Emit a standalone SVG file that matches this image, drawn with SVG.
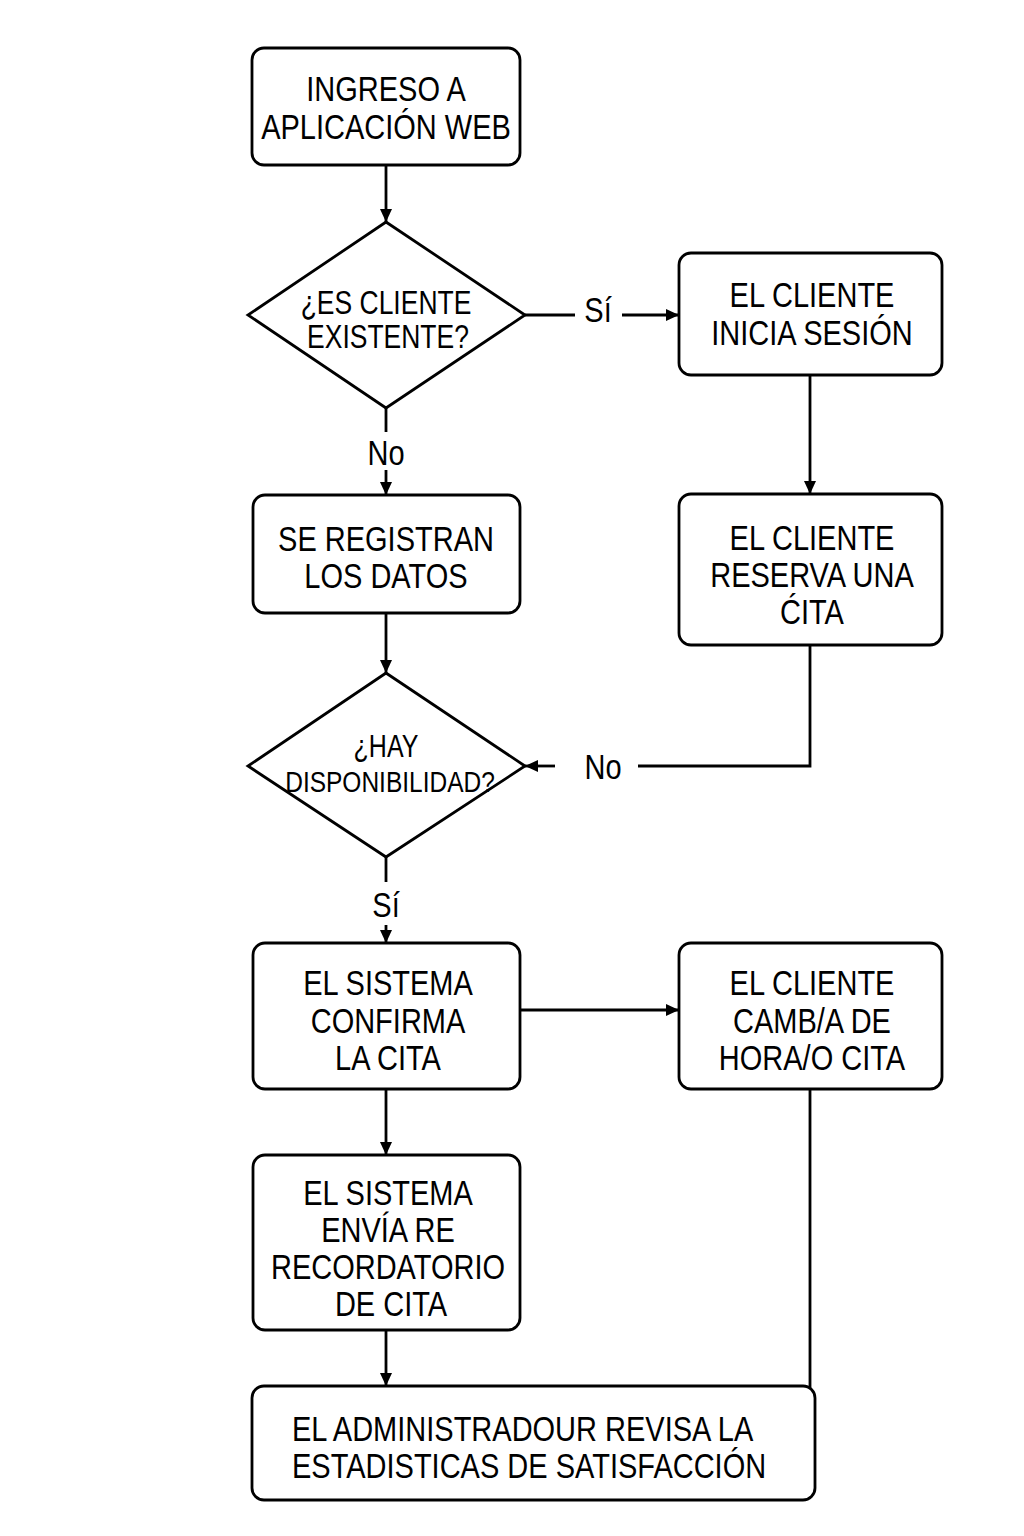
<svg xmlns="http://www.w3.org/2000/svg" width="1024" height="1536" viewBox="0 0 1024 1536">
<defs>
<marker id="arr" markerUnits="userSpaceOnUse" markerWidth="16" markerHeight="14" refX="13" refY="7" orient="auto">
<path d="M0,1 L13,7 L0,13 Z" fill="#000"/>
</marker>
<style>
.n{fill:#fff;stroke:#000;stroke-width:2.8}
.t{font-family:"Liberation Sans",Arial,sans-serif;font-size:29px;fill:#000;text-anchor:middle}
.d{font-size:26.5px}
.l{text-anchor:start}
.c{fill:none;stroke:#000;stroke-width:2.8}
.a{marker-end:url(#arr)}
</style>
</defs>
<rect width="1024" height="1536" fill="#fff"/>
<g id="connectors">
<path class="c a" d="M386,165 V222"/>
<path class="c" d="M525,315 H575"/>
<path class="c a" d="M622,315 H679"/>
<path class="c" d="M386,408 V432"/>
<path class="c a" d="M386,470 V495"/>
<path class="c a" d="M810,375 V494"/>
<path class="c a" d="M386,613 V673"/>
<path class="c" d="M810,645 V766 H638"/>
<path class="c a" d="M555,766 H525"/>
<path class="c" d="M386,857 V882"/>
<path class="c a" d="M386,925 V943"/>
<path class="c a" d="M520,1010 H679"/>
<path class="c a" d="M386,1089 V1155"/>
<path class="c" d="M810,1089 V1390"/>
<path class="c a" d="M386,1330 V1386"/>
<g class="t">
<text transform="translate(598,322) scale(1,1.24)">Sí</text>
<text transform="translate(386,465) scale(1,1.24)">No</text>
<text transform="translate(603,779) scale(1,1.24)">No</text>
<text transform="translate(386,917) scale(1,1.24)">Sí</text>
</g>
</g>
<g id="n1">
<rect class="n" x="252" y="48" width="268" height="117" rx="12"/>
<text class="t" transform="translate(386,101) scale(1,1.24)">INGRESO A</text>
<text class="t" transform="translate(386,139) scale(1,1.24)">APLICACIÓN WEB</text>
</g>
<g id="d1">
<polygon class="n" points="386,222 525,315 386,408 248,315"/>
<text class="t d" transform="translate(386,314) scale(1,1.24)">¿ES CLIENTE</text>
<text class="t d" transform="translate(388,348) scale(1,1.24)">EXISTENTE?</text>
</g>
<g id="n2">
<rect class="n" x="679" y="253" width="263" height="122" rx="12"/>
<text class="t" transform="translate(812,307) scale(1,1.24)">EL CLIENTE</text>
<text class="t" transform="translate(812,345) scale(1,1.24)">INICIA SESIÓN</text>
</g>
<g id="n3">
<rect class="n" x="253" y="495" width="267" height="118" rx="12"/>
<text class="t" transform="translate(386,551) scale(1,1.24)">SE REGISTRAN</text>
<text class="t" transform="translate(386,588) scale(1,1.24)">LOS DATOS</text>
</g>
<g id="n4">
<rect class="n" x="679" y="494" width="263" height="151" rx="12"/>
<text class="t" transform="translate(812,550) scale(1,1.24)">EL CLIENTE</text>
<text class="t" transform="translate(812,587) scale(1,1.24)">RESERVA UNA</text>
<text class="t" transform="translate(812,624) scale(1,1.24)">ĆITA</text>
</g>
<g id="d2">
<polygon class="n" points="386,673 525,766 386,857 248,766"/>
<text class="t" style="font-size:25px" transform="translate(386,757) scale(1,1.24)">¿HAY</text>
<text class="t" style="font-size:24.5px" transform="translate(390,792) scale(1,1.24)">DISPONIBILIDAD?</text>
</g>
<g id="n5">
<rect class="n" x="253" y="943" width="267" height="146" rx="12"/>
<text class="t" transform="translate(388,995) scale(1,1.24)">EL SISTEMA</text>
<text class="t" transform="translate(388,1033) scale(1,1.24)">CONFIRMA</text>
<text class="t" transform="translate(388,1070) scale(1,1.24)">LA CITA</text>
</g>
<g id="n6">
<rect class="n" x="679" y="943" width="263" height="146" rx="12"/>
<text class="t" transform="translate(812,995) scale(1,1.24)">EL CLIENTE</text>
<text class="t" transform="translate(812,1033) scale(1,1.24)">CAMB/A DE</text>
<text class="t" transform="translate(812,1070) scale(1,1.24)">HORA/O CITA</text>
</g>
<g id="n7">
<rect class="n" x="253" y="1155" width="267" height="175" rx="12"/>
<text class="t" transform="translate(388,1205) scale(1,1.24)">EL SISTEMA</text>
<text class="t" transform="translate(388,1242) scale(1,1.24)">ENVÍA RE</text>
<text class="t" transform="translate(388,1279) scale(1,1.24)">RECORDATORIO</text>
<text class="t" transform="translate(391,1316) scale(1,1.24)">DE CITA</text>
</g>
<g id="n8">
<rect class="n" x="252" y="1386" width="563" height="114" rx="12"/>
<text class="t l" transform="translate(292,1441) scale(1,1.24)">EL ADMINISTRADOUR REVISA LA</text>
<text class="t l" transform="translate(292,1478) scale(1,1.24)">ESTADISTICAS DE SATISFACCIÓN</text>
</g>
</svg>
